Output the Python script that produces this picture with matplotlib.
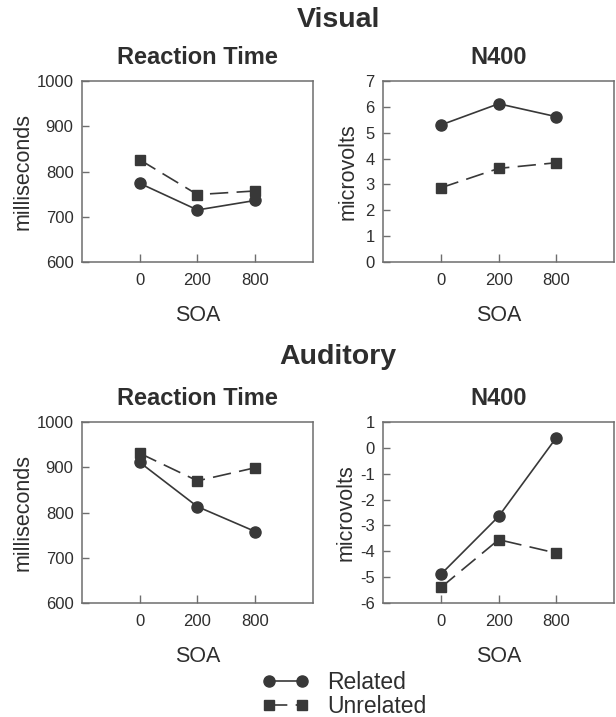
"""
   two-by-two panel of reaction time and N400 by SOA, visual and auditory
"""
from matplotlib import pyplot as plt
plt.switch_backend('Agg') #batch
import numpy as np

plt.rcParams['font.family'] = ['Liberation Sans', 'DejaVu Sans']
plt.rcParams['axes.unicode_minus'] = False  # plain hyphen like the original

soa_labels = ['0', '200', '800']

vis_rt_related = [774, 715, 736]
vis_rt_unrelated = [826, 749, 757]
vis_n400_related = [5.3, 6.12, 5.62]
vis_n400_unrelated = [2.87, 3.62, 3.84]

aud_rt_related = [911, 813, 758]
aud_rt_unrelated = [931, 870, 899]
aud_n400_related = [-4.89, -2.65, 0.4]
aud_n400_unrelated = [-5.4, -3.55, -4.07]

rt_ticks = [600, 700, 800, 900, 1000]
vis_n400_ticks = [0, 1, 2, 3, 4, 5, 6, 7]
aud_n400_ticks = [-6, -5, -4, -3, -2, -1, 0, 1]

line_col = '#383838'
text_col = '#2e2e2e'
spine_col = '#6e6e6e'


def make_panel(fig, rect, related, unrelated, yticks, ylabel, title, ylab_x):
    """
    draw one panel, return the axis and the two lines
    """
    ax = fig.add_axes(rect)
    xpos = np.arange(1, len(soa_labels) + 1)
    l1, = ax.plot(xpos, related, color=line_col, lw=1.2, marker='o', ms=8,
                  mfc=line_col, mec=line_col)
    l2, = ax.plot(xpos, unrelated, color=line_col, lw=1.2, marker='s', ms=7,
                  mfc=line_col, mec=line_col, dashes=(11, 5))
    ax.set_xlim(0, 4)
    ax.set_ylim(yticks[0], yticks[-1])
    ax.set_xticks(xpos)
    ax.set_xticklabels(soa_labels)
    ax.set_yticks(yticks)
    for sp in ax.spines.values():
        sp.set_color(spine_col)
        sp.set_linewidth(1.1)
    ax.tick_params(axis='x', direction='in', length=6, width=1, color=spine_col,
                   labelsize=12, labelcolor=text_col, pad=8)
    ax.tick_params(axis='y', direction='in', length=5, width=1, color=spine_col,
                   labelsize=12, labelcolor=text_col, pad=6)
    ax.set_xlabel('SOA', fontsize=15.5, color=text_col)
    ax.xaxis.set_label_coords(0.5, -0.235)
    ax.set_ylabel(ylabel, fontsize=15.5, color=text_col)
    ax.yaxis.set_label_coords(ylab_x, 0.5)
    ax.set_title(title, fontsize=17, fontweight='bold', color=text_col, pad=12)
    return ax, l1, l2


if __name__ == "__main__":
    fig = plt.figure(figsize=(6.16, 7.17), dpi=100)
    fig.patch.set_facecolor('white')

    w = 0.375
    h = 0.2524
    left1, left2 = 0.133, 0.622
    top_bot, low_bot = 0.6346, 0.159

    make_panel(fig, [left1, top_bot, w, h], vis_rt_related, vis_rt_unrelated,
               rt_ticks, 'milliseconds', 'Reaction Time', -0.208)
    make_panel(fig, [left2, top_bot, w, h], vis_n400_related, vis_n400_unrelated,
               vis_n400_ticks, 'microvolts', 'N400', -0.105)
    ax, l1, l2 = make_panel(fig, [left1, low_bot, w, h], aud_rt_related,
                            aud_rt_unrelated, rt_ticks, 'milliseconds',
                            'Reaction Time', -0.208)
    make_panel(fig, [left2, low_bot, w, h], aud_n400_related, aud_n400_unrelated,
               aud_n400_ticks, 'microvolts', 'N400', -0.115)

    fig.text(338 / 616., 1 - 20 / 717., 'Visual', ha='center', va='center',
             fontsize=20.5, fontweight='bold', color=text_col)
    fig.text(338 / 616., 1 - 357 / 717., 'Auditory', ha='center', va='center',
             fontsize=20.5, fontweight='bold', color=text_col)

    fig.legend([l1, l2], ['Related', 'Unrelated'], loc='center',
               bbox_to_anchor=(0.559, 0.0314), frameon=False, numpoints=2,
               handlelength=2.05, fontsize=16.5, labelspacing=0.05,
               handletextpad=0.8, labelcolor=text_col, borderpad=0.1)

    fig.savefig('out.png', dpi=100)
